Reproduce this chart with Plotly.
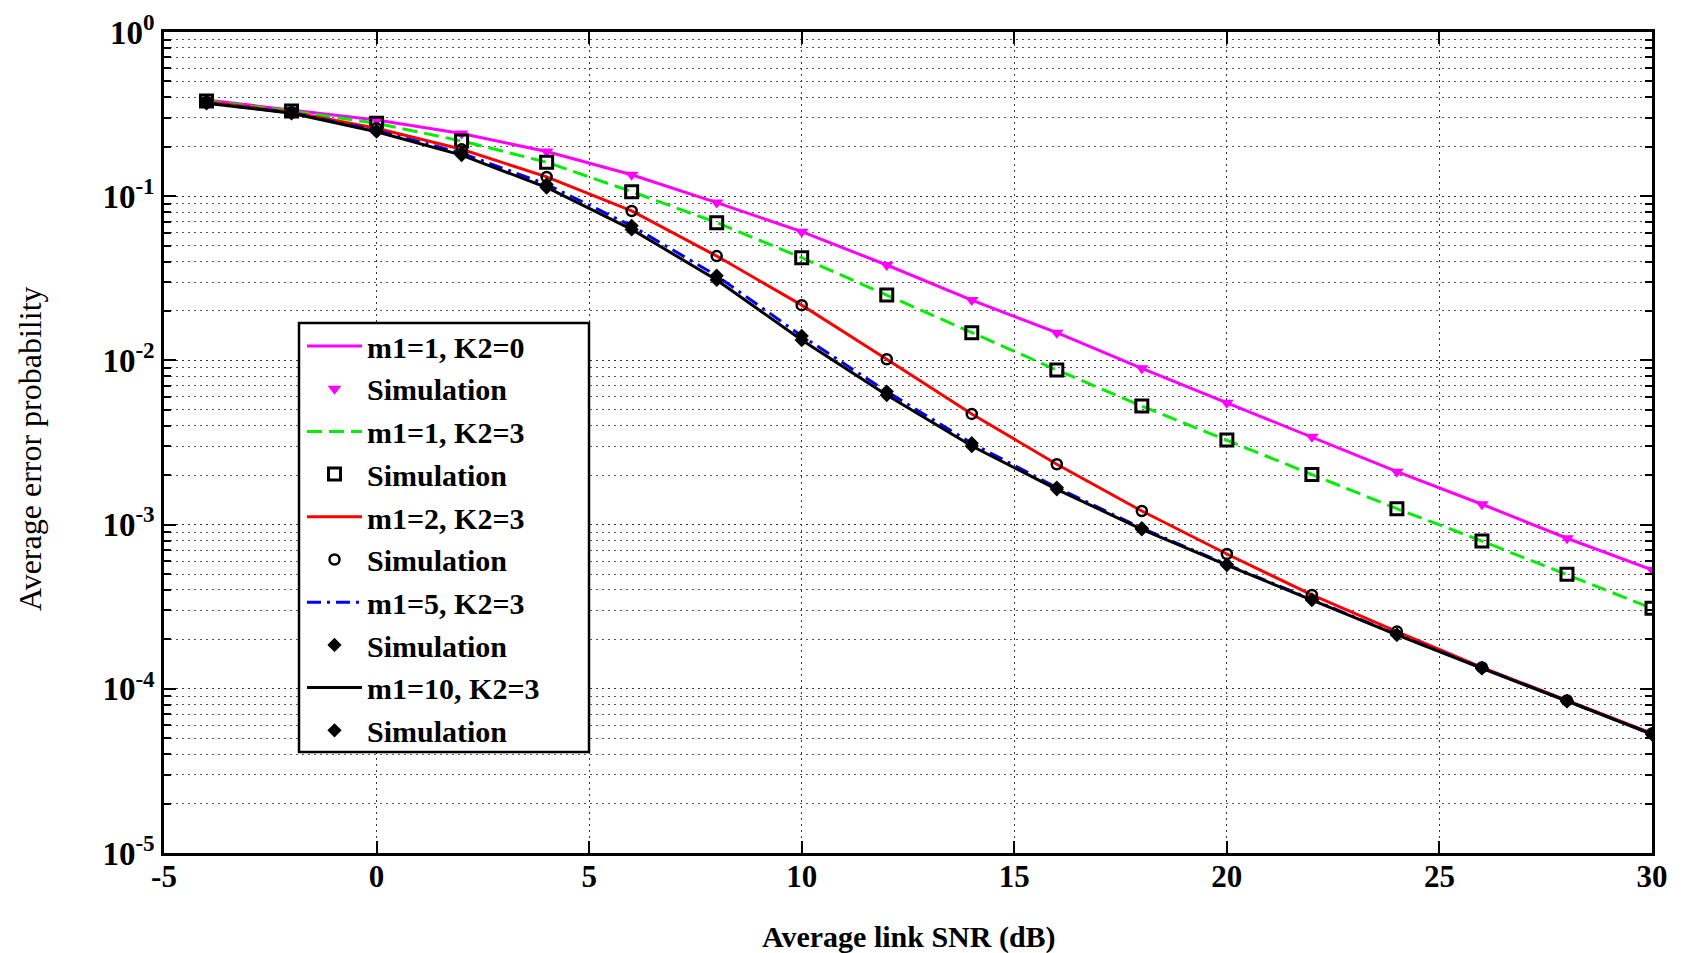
import plotly.graph_objects as go

# ---- data ----
snr_db = [-4, -2, 0, 2, 4, 6, 8, 10, 12, 14, 16, 18, 20, 22, 24, 26, 28, 30]

pe_m1_k0 = [0.385, 0.335, 0.291, 0.241, 0.187, 0.135, 0.0914, 0.0608, 0.0381, 0.0233,
            0.01475, 0.00895, 0.00552, 0.00343, 0.0021, 0.00133, 0.000826, 0.00053]
pe_m1_k3 = [0.38, 0.33, 0.278, 0.217, 0.161, 0.1066, 0.069, 0.0422, 0.025, 0.01475,
            0.00874, 0.00527, 0.00327, 0.00202, 0.00125, 0.000794, 0.000498, 0.000309]
pe_m2_k3 = [0.375, 0.325, 0.259, 0.193, 0.131, 0.0813, 0.0432, 0.0217, 0.01016, 0.00472,
            0.00233, 0.00121, 0.000662, 0.000373, 0.000223, 0.000135, 8.5e-5, 5.35e-5]
pe_m5_k3 = [0.37, 0.322, 0.251, 0.183, 0.118, 0.066, 0.0328, 0.0141, 0.00646, 0.00313,
            0.00168, 0.00095, 0.000572, 0.00035, 0.000214, 0.000134, 8.4e-5, 5.3e-5]
pe_m10_k3 = [0.368, 0.32, 0.247, 0.178, 0.113, 0.0628, 0.0309, 0.0133, 0.00615, 0.00301,
             0.00164, 0.000936, 0.000567, 0.000347, 0.000213, 0.000133, 8.43e-5, 5.28e-5]

series_labels = ["m1=1, K2=0", "m1=1, K2=3", "m1=2, K2=3", "m1=5, K2=3", "m1=10, K2=3"]
sim_label = "Simulation"

x_ticks = [-5, 0, 5, 10, 15, 20, 25, 30]
y_exponents = [-5, -4, -3, -2, -1, 0]

# ---- styling ----
FONT = "Liberation Serif"
GRID_DASH = "2px,4px"
series = [
    (pe_m1_k0, "#ff00ff", "solid", dict(symbol="triangle-down", size=12, color="#ff00ff", line=dict(width=0))),
    (pe_m1_k3, "#00ee00", "15px,7px", dict(symbol="square-open", size=12, color="black", line=dict(width=3))),
    (pe_m2_k3, "#ff0000", "solid", dict(symbol="circle-open", size=10, color="black", line=dict(width=2.5))),
    (pe_m5_k3, "#0000ff", "14px,6px,3px,6px", dict(symbol="diamond", size=11, color="black", line=dict(width=0))),
    (pe_m10_k3, "#000000", "solid", dict(symbol="diamond", size=11, color="black", line=dict(width=0))),
]

fig = go.Figure()
for i, ((vals, col, dash, mk), lab) in enumerate(zip(series, series_labels)):
    fig.add_trace(go.Scatter(
        x=snr_db, y=vals, mode="lines", name=lab, legendgroup=f"g{i}a",
        line=dict(color=col, width=3, dash=dash),
    ))
    fig.add_trace(go.Scatter(
        x=snr_db, y=vals, mode="markers", name=sim_label, legendgroup=f"g{i}b",
        marker=mk,
    ))

minor_vals = [k * 10.0 ** e for e in range(-5, 0) for k in range(2, 10)]

# page has an 8px body margin, so the figure is 8px smaller and offsets compensate
PL, PT, PLOT_W, PLOT_H = 164, 32, 1488, 821


def px(xp):
    return (xp - PL) / PLOT_W


def py(yp):
    return 1 - (yp - PT) / PLOT_H


fig.update_layout(
    width=1674, height=945,
    paper_bgcolor="white", plot_bgcolor="white",
    margin=dict(l=156, r=30, t=24, b=100, autoexpand=False),
    font=dict(family=FONT, color="black"),
    showlegend=True,
    legend=dict(
        x=px(302), y=py(320),
        xanchor="left", yanchor="top",
        bgcolor="rgba(0,0,0,0)", borderwidth=0,
        font=dict(family=FONT, size=30, color="black", weight="bold"),
        tracegroupgap=0.7,
        itemwidth=55,
    ),
    shapes=[
        dict(type="rect", xref="paper", yref="paper",
             x0=px(299), x1=px(589), y0=py(752), y1=py(323),
             line=dict(color="black", width=2.5), fillcolor="white", layer="above"),
    ],
    annotations=[
        dict(text="Average link SNR (dB)", xref="paper", yref="paper",
             x=0.501, y=-(937 - 853) / PLOT_H, xanchor="center", yanchor="middle", showarrow=False,
             font=dict(family=FONT, size=30, color="black", weight="bold")),
        dict(text="Average error probability", xref="paper", yref="paper",
             x=-(164 - 30) / PLOT_W, y=0.492, xanchor="center", yanchor="middle", showarrow=False,
             textangle=-90,
             font=dict(family=FONT, size=32, color="black")),
    ],
)

fig.update_xaxes(
    range=[-5, 30], tickmode="array", tickvals=x_ticks,
    ticktext=[str(v) for v in x_ticks],
    ticks="inside", ticklen=12, tickwidth=2, tickcolor="black",
    showline=True, linecolor="black", linewidth=2.5, mirror="allticks",
    showgrid=True, gridcolor="#333333", griddash=GRID_DASH, gridwidth=1,
    zeroline=False, automargin=False,
    tickfont=dict(family=FONT, size=31, color="black", weight="bold"),
    ticklabelstandoff=-6,
)
fig.update_yaxes(
    type="log", range=[-5, 0], tickmode="array",
    tickvals=[10.0 ** e for e in y_exponents],
    ticktext=[f"10<sup>{e}</sup>" for e in y_exponents],
    ticks="inside", ticklen=12, tickwidth=2, tickcolor="black",
    showline=True, linecolor="black", linewidth=2.5, mirror="allticks",
    showgrid=True, gridcolor="#333333", griddash=GRID_DASH, gridwidth=1,
    zeroline=False, automargin=False,
    tickfont=dict(family=FONT, size=33, color="black", weight="bold"),
    minor=dict(tickmode="array", tickvals=minor_vals, ticks="inside", ticklen=7,
               tickwidth=1.5, tickcolor="black",
               showgrid=True, gridcolor="#555555", griddash=GRID_DASH, gridwidth=1),
)

fig.write_html("out.html")
